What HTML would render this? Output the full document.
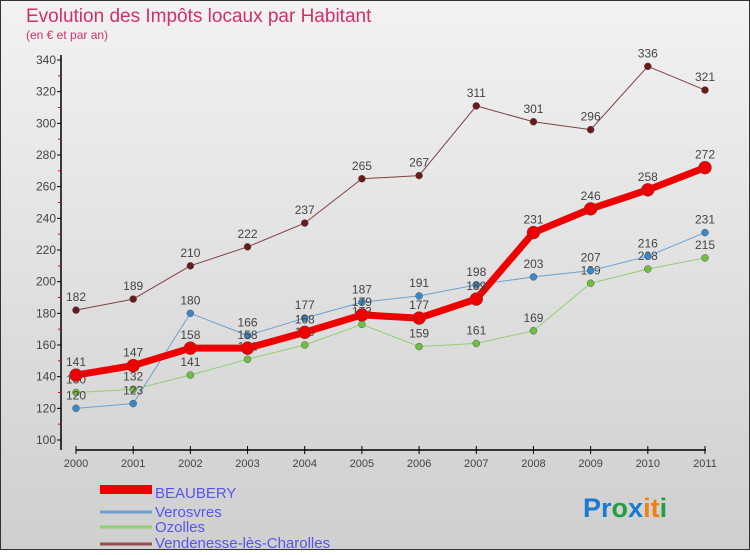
<!DOCTYPE html>
<html><head><meta charset="utf-8"><style>
body{margin:0;width:750px;height:550px;overflow:hidden;font-family:"Liberation Sans",sans-serif}
</style></head><body>
<svg id="chart" width="750" height="550" xmlns="http://www.w3.org/2000/svg" font-family="Liberation Sans, sans-serif">
<defs><linearGradient id="bg" x1="0" y1="0" x2="0" y2="1"><stop offset="0" stop-color="#f2f2f2"/><stop offset="1" stop-color="#cfcfcf"/></linearGradient></defs>
<rect x="0.5" y="0.5" width="749" height="549" fill="url(#bg)" stroke="#333"/>
<text x="26" y="22" font-size="19" fill="#d0306a">Evolution des Impôts locaux par Habitant</text>
<text x="26" y="39" font-size="12" fill="#d0306a">(en € et par an)</text>
<g id="axes"></g><g id="series"></g>
<g font-size="15" fill="#5555ee">
<rect x="100" y="485" width="52" height="9" fill="#e00"/>
<text x="155" y="498">BEAUBERY</text>
<line x1="100" y1="512" x2="152" y2="512" stroke="#6fa0d0" stroke-width="3"/>
<text x="155" y="517">Verosvres</text>
<line x1="100" y1="527" x2="152" y2="527" stroke="#90d070" stroke-width="3"/>
<text x="155" y="532">Ozolles</text>
<line x1="100" y1="544" x2="152" y2="544" stroke="#905050" stroke-width="3"/>
<text x="155" y="548">Vendenesse-lès-Charolles</text>
</g>
<text x="583" y="517" font-size="27" font-weight="bold"><tspan fill="#1a7ad0">Pr</tspan><tspan fill="#20a040">o</tspan><tspan fill="#1a7ad0">x</tspan><tspan fill="#f08010">it</tspan><tspan fill="#20a040">i</tspan></text>
</svg>
<script>
const years=["2000","2001","2002","2003","2004","2005","2006","2007","2008","2009","2010","2011"];
const yTicks=[100,120,140,160,180,200,220,240,260,280,300,320,340];
const beaubery=[141,147,158,158,168,179,177,189,231,246,258,272];
const verosvres=[120,123,180,166,177,187,191,198,203,207,216,231];
const ozolles=[130,132,141,151,160,173,159,161,169,199,208,215];
const vendenesse=[182,189,210,222,237,265,267,311,301,296,336,321];
const NS="http://www.w3.org/2000/svg";
const xS=i=>76+i*(705-76)/11;
const yS=v=>440-(v-100)*380/240;
function mk(t,a,p){const e=document.createElementNS(NS,t);for(const k in a)e.setAttribute(k,a[k]);p.appendChild(e);return e;}
const ax=document.getElementById('axes');
let e=mk('line',{x1:61,y1:55,x2:61,y2:450,stroke:'#000','stroke-width':1.5},ax);

e=mk('line',{x1:76,y1:450,x2:706,y2:450,stroke:'#000','stroke-width':1.5},ax);

yTicks.forEach((v,i)=>{const y=yS(v);
mk('line',{x1:57,y1:y,x2:61,y2:y,stroke:'#000'},ax);
if(i<yTicks.length-1)mk('line',{x1:58,y1:yS(v+10),x2:61,y2:yS(v+10),stroke:'#e00'},ax);
const t=mk('text',{x:56,y:y+4,'text-anchor':'end','font-size':12,fill:'#444'},ax);t.textContent=v;
});
years.forEach((yr,i)=>{const x=xS(i);mk('line',{x1:x,y1:446,x2:x,y2:454,stroke:'#000'},ax);
const t=mk('text',{x:x,y:467,'text-anchor':'middle','font-size':11,fill:'#444'},ax);t.textContent=yr;
});
const sg=document.getElementById('series');
function series(name,data,color,w,r,dot){const g=mk('g',{},sg);

const l=mk('polyline',{points:data.map((v,i)=>xS(i)+','+yS(v)).join(' '),fill:'none',stroke:color,'stroke-width':w,'stroke-linejoin':'round'},g);

data.forEach((v,i)=>{const c=mk('circle',{cx:xS(i),cy:yS(v),r:r,fill:dot,stroke:'#555','stroke-width':0.5},g);

const t=mk('text',{x:xS(i),y:yS(v)-9,'text-anchor':'middle','font-size':12,fill:'#444'},g);t.textContent=v;
});}
series('vendenesse',vendenesse,'#804040',1,3.5,'#6a1a1a');
series('ozolles',ozolles,'#90d070',1,3.5,'#70c040');
series('verosvres',verosvres,'#6fa0d0',1,3.5,'#3a88c8');
series('beaubery',beaubery,'#ee0000',7,6.5,'#ee0000');
</script>
</body></html>
